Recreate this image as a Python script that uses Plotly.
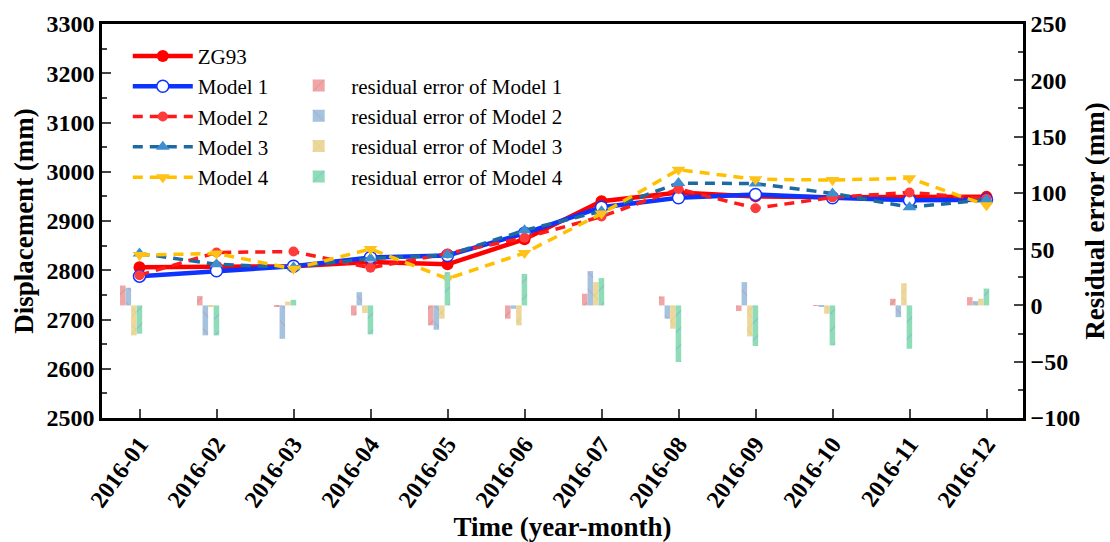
import plotly.graph_objects as go

months = ["2016-01", "2016-02", "2016-03", "2016-04", "2016-05", "2016-06",
          "2016-07", "2016-08", "2016-09", "2016-10", "2016-11", "2016-12"]

zg93 = [2806, 2807, 2808, 2817, 2812, 2863, 2940, 2958, 2950, 2948, 2948, 2949]
model1 = [2788, 2799, 2808, 2826, 2830, 2875, 2928, 2947, 2954, 2947, 2942, 2943]
model2 = [2790, 2836, 2838, 2805, 2834, 2866, 2909, 2965, 2926, 2948, 2958, 2945]
model3 = [2834, 2812, 2806, 2824, 2831, 2881, 2920, 2977, 2976, 2956, 2928, 2943]
model4 = [2831, 2834, 2803, 2843, 2783, 2835, 2915, 3004, 2985, 2983, 2987, 2932]

res1 = [17.7, 8.3, -1.0, -8.9, -17.7, -11.8, 10.4, 8.0, -5.0, -0.5, 5.9, 7.4]
res2 = [15.7, -26.6, -29.6, 11.8, -21.6, -3.0, 30.5, -11.8, 20.7, -1.0, -10.4, 3.8]
res3 = [-26.6, -1.5, 3.5, -6.8, -11.8, -17.7, 20.7, -20.7, -27.5, -7.4, 19.7, 6.0]
res4 = [-25.1, -26.6, 5.0, -25.7, 29.6, 28.0, 24.3, -50.3, -36.0, -35.5, -38.5, 15.0]

x = list(range(len(months)))
FONT = "Liberation Serif"

fig = go.Figure()

# residual bars (right axis)
bar_specs = [
    ("residual error of Model 1", res1, "#f0a6a6", "#b06a6a", "/"),
    ("residual error of Model 2", res2, "#a3c3e0", "#e06a6a", "\\"),
    ("residual error of Model 3", res3, "#efd79c", "#66cc55", "x"),
    ("residual error of Model 4", res4, "#8fdcb8", "#7a7ae0", "/"),
]
bw = 0.072
for k, (name, vals, col, pcol, shp) in enumerate(bar_specs):
    fig.add_trace(go.Bar(
        x=x, y=vals, name=name, yaxis="y2", width=bw, offset=-0.253 + k * bw,
        marker=dict(color=col, line=dict(width=0),
                    pattern=dict(shape=shp, fgcolor=pcol, size=12, solidity=0.08,
                                 fillmode="overlay")),
        legend="legend2",
    ))

# lines (left axis)
fig.add_trace(go.Scatter(x=x, y=zg93, name="ZG93", mode="lines+markers",
                         line=dict(color="#ff0000", width=4.5),
                         marker=dict(symbol="circle", size=12, color="#ff0000")))
fig.add_trace(go.Scatter(x=x, y=model1, name="Model 1", mode="lines+markers",
                         line=dict(color="#0d33ff", width=4.5),
                         marker=dict(symbol="circle", size=12, color="white",
                                     line=dict(color="#0d33ff", width=1.5))))
fig.add_trace(go.Scatter(x=x, y=model2, name="Model 2", mode="lines+markers",
                         line=dict(color="#ff1a1a", width=3.5, dash="10px,7px"),
                         marker=dict(symbol="circle", size=10, color="#ff3b3b")))
fig.add_trace(go.Scatter(x=x, y=model3, name="Model 3", mode="lines+markers",
                         line=dict(color="#1d6aa3", width=3.5, dash="10px,7px"),
                         marker=dict(symbol="triangle-up", size=12, color="#3f8fd0")))
fig.add_trace(go.Scatter(x=x, y=model4, name="Model 4", mode="lines+markers",
                         line=dict(color="#ffc000", width=3.5, dash="10px,7px"),
                         marker=dict(symbol="triangle-down", size=12, color="#ffc21a")))

tickfont = dict(family=FONT, size=24, color="black", weight=700)
titlefont = dict(family=FONT, size=27, color="black", weight=700)
legfont = dict(family=FONT, size=21, color="black")

fig.update_layout(
    width=1110, height=542,
    margin=dict(l=102, r=87, t=24, b=124),
    paper_bgcolor="white", plot_bgcolor="white",
    barmode="overlay",
    xaxis=dict(
        range=[-0.487, 11.474], tickmode="array", tickvals=x, ticktext=months,
        tickangle=-54, tickfont=tickfont, ticks="inside", ticklen=9, tickwidth=2,
        showline=True, linecolor="black", linewidth=2.5, mirror=True,
        showgrid=False, zeroline=False, automargin=False,
        title=dict(text="Time (year-month)", font=titlefont, standoff=2),
    ),
    yaxis=dict(
        range=[2500, 3300], dtick=100, tickfont=tickfont, ticks="inside",
        ticklen=9, tickwidth=2, showline=True, linecolor="black", linewidth=2.5,
        showgrid=False, zeroline=False, automargin=False,
        minor=dict(dtick=50, ticks="inside", ticklen=5, tickwidth=2, showgrid=False),
        title=dict(text="Displacement (mm)", font=titlefont, standoff=6),
    ),
    yaxis2=dict(
        range=[-100, 250], dtick=50, overlaying="y", side="right",
        tickfont=tickfont, ticks="inside", ticklen=9, tickwidth=2,
        showline=True, linecolor="black", linewidth=2.5,
        showgrid=False, zeroline=False, automargin=False,
        minor=dict(dtick=25, ticks="inside", ticklen=5, tickwidth=2, showgrid=False),
        title=dict(text="Residual error (mm)", font=titlefont, standoff=6),
    ),
    legend=dict(
        x=0.028, y=0.97, xanchor="left", yanchor="top",
        bgcolor="rgba(0,0,0,0)", font=legfont,
        itemwidth=60, traceorder="normal",
    ),
    legend2=dict(
        x=0.2, y=0.895, xanchor="left", yanchor="top",
        bgcolor="rgba(0,0,0,0)", font=legfont,
        itemwidth=55, traceorder="normal",
    ),
    showlegend=True,
)

fig.write_html("out.html")
